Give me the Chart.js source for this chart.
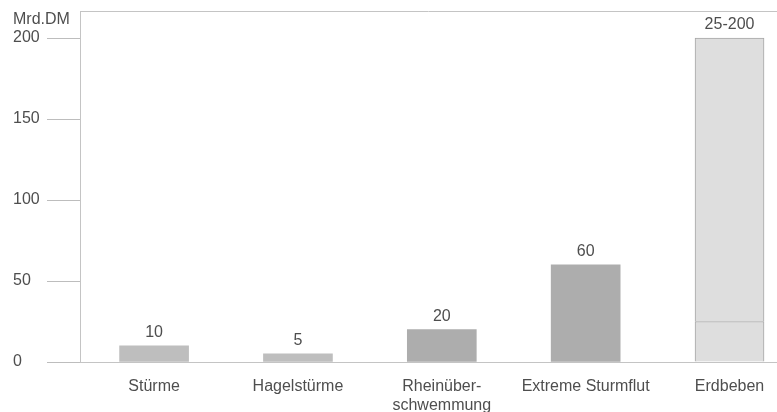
<!DOCTYPE html>
<html>
<head>
<meta charset="utf-8">
<script src="https://cdn.jsdelivr.net/npm/chart.js@4/dist/chart.umd.min.js"></script>
<style>
  html, body { margin: 0; padding: 0; background: #fff; }
  canvas { display: block; }
</style>
</head>
<body>
<canvas id="c" width="777" height="412"></canvas>
<script>
// Schadenspotenzial nach Ereignisart (Mrd. DM)
const categories = ['Stürme', 'Hagelstürme', ['Rheinüber-', 'schwemmung'], 'Extreme Sturmflut', 'Erdbeben'];
const damage = [10, 5, 20, 60, 25];        // Erdbeben: untere Grenze
const quakeRange = [25, 200];              // Erdbeben: Spanne
const yTicks = [0, 50, 100, 150, 200];
const unitLabel = 'Mrd.DM';

const quakeIndex = categories.length - 1;
const barColors = ['#bebebe', '#bebebe', '#adadad', '#adadad', '#dedede'];
const textColor = '#4e4e4e';
const lineColor = '#c4c4c4';
const FONT = '"Liberation Sans", Arial, sans-serif';

// value labels above bars, plus the frame line and unit caption
const annotate = {
  id: 'annotate',
  afterDatasetsDraw(chart) {
    const ctx = chart.ctx;
    const area = chart.chartArea;
    ctx.save();
    ctx.font = '16px ' + FONT;
    ctx.fillStyle = textColor;
    ctx.textAlign = 'center';
    ctx.textBaseline = 'middle';
    chart.getDatasetMeta(0).data.forEach((bar, i) => {
      if (i === quakeIndex) return;
      ctx.fillText(String(damage[i]), bar.x, bar.y - 13);
    });
    const range = chart.getDatasetMeta(1).data[0];
    ctx.fillText(quakeRange.join('-'), range.x, range.y - 13);

    // top frame line
    ctx.strokeStyle = lineColor;
    ctx.lineWidth = 1;
    ctx.beginPath();
    ctx.moveTo(area.left, area.top + 0.5);
    ctx.lineTo(area.right, area.top + 0.5);
    ctx.stroke();

    // unit caption
    ctx.textAlign = 'left';
    ctx.textBaseline = 'alphabetic';
    ctx.fillText(unitLabel, chart.scales.y.left, area.top + 13);
    ctx.restore();
  }
};

new Chart(document.getElementById('c'), {
  type: 'bar',
  data: {
    datasets: [
      {
        data: damage.map((v, i) => ({ x: i, y: v })),
        backgroundColor: barColors,
        borderColor: '#a6a6a6',
        borderWidth: damage.map((v, i) => (i === quakeIndex ? 1 : 0)),
        barThickness: 69,
        grouped: false
      },
      {
        data: [{ x: quakeIndex, y: quakeRange }],
        backgroundColor: barColors[quakeIndex],
        borderColor: '#a6a6a6',
        borderWidth: 1,
        barThickness: 69,
        grouped: false
      }
    ]
  },
  options: {
    responsive: false,
    animation: false,
    devicePixelRatio: 1,
    layout: { padding: { left: 13, top: 11, right: 0, bottom: 0 } },
    plugins: { legend: { display: false }, tooltip: { enabled: false } },
    scales: {
      x: {
        type: 'linear',
        offset: false,
        min: -0.515,
        max: 4.33,
        afterBuildTicks(scale) {
          scale.ticks = categories.map((c, i) => ({ value: i }));
        },
        afterFit(scale) {
          scale.height = 50;
          scale.paddingLeft = 0;
          scale.paddingRight = 0;
        },
        grid: { display: false },
        border: { display: true, color: lineColor, width: 1 },
        ticks: {
          autoSkip: false,
          maxRotation: 0,
          padding: 7,
          color: textColor,
          font: { family: FONT, size: 16, lineHeight: 1.2 },
          callback: (v) => categories[v]
        }
      },
      y: {
        min: 0,
        max: 216.7,
        afterBuildTicks(scale) {
          scale.ticks = yTicks.map(v => ({ value: v }));
        },
        afterFit(scale) {
          scale.width = 67;
          scale.paddingTop = 0;
          scale.paddingBottom = 0;
        },
        grid: {
          display: true,
          drawOnChartArea: false,
          drawTicks: true,
          tickLength: 33,
          color: '#bdbdbd'
        },
        border: { display: true, color: lineColor, width: 1 },
        ticks: {
          crossAlign: 'far',
          padding: 7,
          color: textColor,
          font: { family: FONT, size: 16 }
        }
      }
    }
  },
  plugins: [annotate]
});
</script>
</body>
</html>
